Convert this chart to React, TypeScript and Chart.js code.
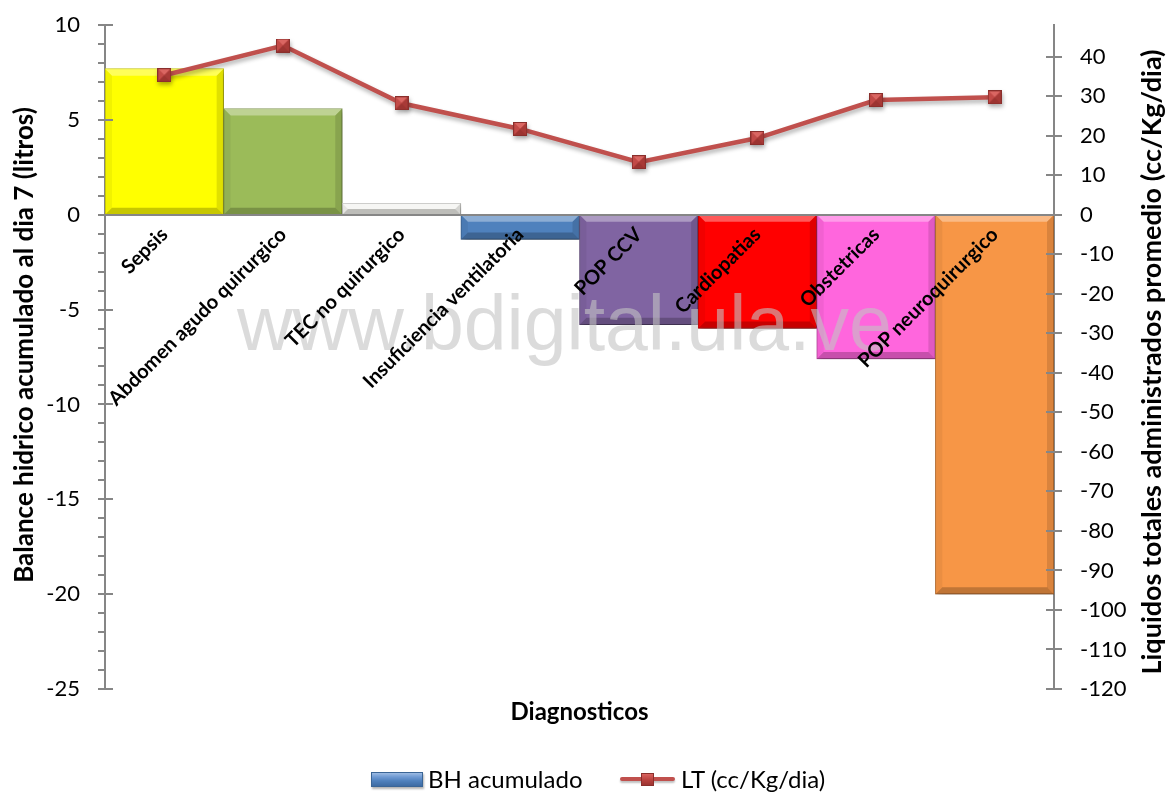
import React, { useEffect, useRef } from "react";
import { Chart, registerables } from "chart.js";

Chart.register(...registerables);

// ---- data ----
const categories = [
  "Sepsis",
  "Abdomen agudo quirurgico",
  "TEC no quirurgico",
  "Insuficiencia ventilatoria",
  "POP CCV",
  "Cardiopatias",
  "Obstetricas",
  "POP neuroquirurgico",
];
const bhAcumulado = [7.7, 5.6, 0.6, -1.3, -5.8, -6.0, -7.6, -20.0];
const ltPromedio = [35.3, 42.8, 28.2, 21.7, 13.3, 19.4, 29.0, 29.7];

const barColors = ["#FFFF00", "#9BBB59", "#F2F2EE", "#4F81BD", "#8064A2", "#FF0000", "#FF66DD", "#F79646"];
const lineColor = "#C0504D";
const axisColor = "#868686";

const leftTitle = "Balance hidrico acumulado al dia 7 (litros)";
const rightTitle = "Liquidos totales administrados promedio (cc/Kg/dia)";
const xTitle = "Diagnosticos";
const watermark = "www.bdigital.ula.ve";
const seriesNames = ["BH acumulado", "LT (cc/Kg/dia)"];

const FONT = "Lato, 'Noto Sans', sans-serif";

function shade(hex: string, f: number): string {
  const n = parseInt(hex.slice(1), 16);
  const r = Math.min(255, Math.round(((n >> 16) & 255) * f));
  const g = Math.min(255, Math.round(((n >> 8) & 255) * f));
  const b = Math.min(255, Math.round((n & 255) * f));
  return `rgb(${r},${g},${b})`;
}

function makeMarker(): HTMLCanvasElement {
  const s = 14;
  const c = document.createElement("canvas");
  c.width = s;
  c.height = s;
  const g = c.getContext("2d")!;
  g.fillStyle = "#B8413E";
  g.fillRect(0, 0, s, s);
  // pyramid-like faces
  const face = (pts: number[][], col: string) => {
    g.beginPath();
    g.moveTo(pts[0][0], pts[0][1]);
    for (let i = 1; i < pts.length; i++) g.lineTo(pts[i][0], pts[i][1]);
    g.closePath();
    g.fillStyle = col;
    g.fill();
  };
  const m = s / 2;
  face([[0, 0], [s, 0], [m, m]], "#DA6662");
  face([[0, 0], [m, m], [0, s]], "#C24A47");
  face([[s, 0], [s, s], [m, m]], "#A83A37");
  face([[0, s], [m, m], [s, s]], "#9C3431");
  g.strokeStyle = "#8A2F2C";
  g.lineWidth = 1;
  g.strokeRect(0.5, 0.5, s - 1, s - 1);
  return c;
}

// shadows for both series, a bevel over each bar, and the watermark
const bevelPlugin = {
  id: "barBevel",
  beforeDatasetDraw(chart: any, args: any) {
    const ctx = chart.ctx;
    ctx.save();
    if (args.meta.type === "bar") {
      ctx.shadowColor = "rgba(0,0,0,0.35)";
      ctx.shadowBlur = 6;
      ctx.shadowOffsetX = 2;
      ctx.shadowOffsetY = 3;
    } else {
      ctx.shadowColor = "rgba(0,0,0,0.3)";
      ctx.shadowBlur = 4;
      ctx.shadowOffsetX = 1;
      ctx.shadowOffsetY = 3;
    }
  },
  afterDatasetDraw(chart: any, args: any) {
    const ctx = chart.ctx;
    ctx.restore();
    if (args.meta.type !== "bar") return;
    args.meta.data.forEach((el: any) => {
      const p = el.getProps(["x", "y", "base", "width"], true);
      const l = p.x - p.width / 2;
      const r = p.x + p.width / 2;
      const t = Math.min(p.y, p.base);
      const btm = Math.max(p.y, p.base);
      const b = Math.min(7, (btm - t) / 2, p.width / 2);
      const poly = (pts: number[][], col: string) => {
        ctx.beginPath();
        ctx.moveTo(pts[0][0], pts[0][1]);
        for (let i = 1; i < pts.length; i++) ctx.lineTo(pts[i][0], pts[i][1]);
        ctx.closePath();
        ctx.fillStyle = col;
        ctx.fill();
      };
      ctx.save();
      poly([[l, t], [r, t], [r - b, t + b], [l + b, t + b]], "rgba(255,255,255,0.35)");
      poly([[l, t], [l + b, t + b], [l + b, btm - b], [l, btm]], "rgba(0,0,0,0.05)");
      poly([[r, t], [r, btm], [r - b, btm - b], [r - b, t + b]], "rgba(0,0,0,0.12)");
      poly([[l, btm], [l + b, btm - b], [r - b, btm - b], [r, btm]], "rgba(0,0,0,0.22)");
      ctx.restore();
    });
  },
  afterDatasetsDraw(chart: any) {
    const ctx = chart.ctx;
    ctx.save();
    ctx.font = `77px 'Liberation Sans', Arial, sans-serif`;
    ctx.fillStyle = "rgba(195,195,195,0.6)";
    ctx.textAlign = "left";
    ctx.textBaseline = "alphabetic";
    ctx.fillText(watermark, 237, 350);
    ctx.restore();
  },
};

// cross tick marks on both value axes, minor ticks on the left one, and the axis titles
const axisPlugin = {
  id: "axisDecor",
  afterDraw(chart: any) {
    const ctx = chart.ctx;
    const { left, right } = chart.chartArea;
    const y = chart.scales.y;
    const y1 = chart.scales.y1;
    ctx.save();
    ctx.strokeStyle = axisColor;
    ctx.lineWidth = 2;
    for (let v = Math.ceil(y.min); v <= y.max; v += 1) {
      const py = Math.round(y.getPixelForValue(v));
      const major = v % 5 === 0;
      ctx.beginPath();
      ctx.moveTo(left - 7, py);
      ctx.lineTo(major ? left + 8 : left, py);
      ctx.stroke();
    }
    y1.ticks.forEach((t: any) => {
      if (t.value % 10 !== 0) return;
      const py = Math.round(y1.getPixelForValue(t.value));
      ctx.beginPath();
      ctx.moveTo(right - 8, py);
      ctx.lineTo(right + 8, py);
      ctx.stroke();
    });
    ctx.fillStyle = "#000";
    ctx.textAlign = "center";
    ctx.textBaseline = "alphabetic";
    ctx.font = `bold 26px ${FONT}`;
    ctx.save();
    ctx.translate(33, 345);
    ctx.rotate(-Math.PI / 2);
    ctx.fillText(leftTitle, 0, 0);
    ctx.restore();
    ctx.font = `bold 27px ${FONT}`;
    ctx.save();
    ctx.translate(1161, 362);
    ctx.rotate(-Math.PI / 2);
    ctx.fillText(rightTitle, 0, 0);
    ctx.restore();
    ctx.font = `bold 24px ${FONT}`;
    ctx.textBaseline = "middle";
    ctx.fillText(xTitle, (left + right) / 2, 712);
    ctx.restore();
  },
};

const noVerticalPadding = (s: any) => {
  s.paddingTop = 0;
  s.paddingBottom = 0;
};

export default function App() {
  const canvasRef = useRef<HTMLCanvasElement>(null);

  useEffect(() => {
    const marker = makeMarker();
    const chart = new Chart(canvasRef.current!, {
      type: "bar",
      data: {
        labels: categories,
        datasets: [
          {
            type: "bar",
            label: seriesNames[0],
            data: bhAcumulado,
            yAxisID: "y",
            backgroundColor: barColors,
            borderColor: barColors.map((c) => shade(c, 0.82)),
            borderWidth: 1,
            borderSkipped: false,
            categoryPercentage: 1,
            barPercentage: 1,
            order: 1,
          },
          {
            type: "line",
            label: seriesNames[1],
            data: ltPromedio,
            yAxisID: "y1",
            borderColor: lineColor,
            borderWidth: 4.5,
            pointStyle: marker as any,
            pointRadius: 7,
            pointHoverRadius: 7,
            tension: 0,
            order: 0,
          } as any,
        ],
      },
      options: {
        responsive: false,
        animation: false,
        events: [],
        layout: { padding: { top: 25, bottom: 104, left: 0, right: 0 } },
        plugins: {
          legend: { display: false },
          tooltip: { enabled: false },
        },
        scales: {
          x: {
            position: { y: 0 } as any,
            grid: { display: false, drawTicks: false },
            border: { display: true, color: axisColor, width: 2, z: 1 },
            ticks: {
              z: 1,
              autoSkip: false,
              minRotation: 45,
              maxRotation: 45,
              padding: 8,
              color: "#000",
              font: { family: FONT, size: 20, weight: "bold" },
            },
            afterFit: (s: any) => {
              s.height = 0;
            },
          },
          y: {
            position: "left",
            min: -25,
            max: 10,
            grid: { display: false, drawTicks: false },
            border: { display: true, color: axisColor, width: 2 },
            ticks: {
              stepSize: 5,
              padding: 25,
              color: "#000",
              font: { family: FONT, size: 22 },
            },
            afterFit: (s: any) => {
              s.width = 105;
              noVerticalPadding(s);
            },
          },
          y1: {
            position: "right",
            min: -120,
            max: 48,
            grid: { display: false, drawTicks: false },
            border: { display: true, color: axisColor, width: 2 },
            ticks: {
              stepSize: 10,
              includeBounds: false,
              padding: 26,
              color: "#000",
              font: { family: FONT, size: 22 },
              callback: (v: any) => (Number(v) % 10 === 0 ? String(v) : ""),
            },
            afterFit: (s: any) => {
              s.width = 113;
              noVerticalPadding(s);
            },
          },
        },
      },
      plugins: [bevelPlugin, axisPlugin],
    });
    return () => chart.destroy();
  }, []);

  const legendText: React.CSSProperties = {
    position: "absolute",
    top: 765,
    fontFamily: FONT,
    fontSize: 24,
    lineHeight: "28px",
    color: "#000",
    whiteSpace: "nowrap",
  };

  return (
    <div style={{ position: "fixed", left: 0, top: 0, width: 1167, height: 793, background: "#fff", overflow: "hidden" }}>
      <canvas ref={canvasRef} width={1167} height={793} style={{ display: "block", width: 1167, height: 793 }} />
      <div
        style={{
          position: "absolute",
          left: 371,
          top: 772,
          width: 52,
          height: 15,
          boxSizing: "border-box",
          border: "1px solid #3A6596",
          background: "linear-gradient(#9DBBE3 0%, #6F9AD3 30%, #4F81BD 60%, #3D6BA3 100%)",
          boxShadow: "1px 2px 2px rgba(0,0,0,0.3)",
        }}
      />
      <div style={{ ...legendText, left: 428 }}>{seriesNames[0]}</div>
      <div
        style={{
          position: "absolute",
          left: 620,
          top: 777,
          width: 55,
          height: 4,
          borderRadius: 2,
          background: lineColor,
          boxShadow: "0 2px 2px rgba(0,0,0,0.25)",
        }}
      />
      <div
        style={{
          position: "absolute",
          left: 641,
          top: 773,
          width: 13,
          height: 13,
          boxSizing: "border-box",
          border: "1px solid #8A2F2C",
          background: "linear-gradient(#D9635F, #B8413E 55%, #9C3431)",
        }}
      />
      <div style={{ ...legendText, left: 681 }}>{seriesNames[1]}</div>
    </div>
  );
}
